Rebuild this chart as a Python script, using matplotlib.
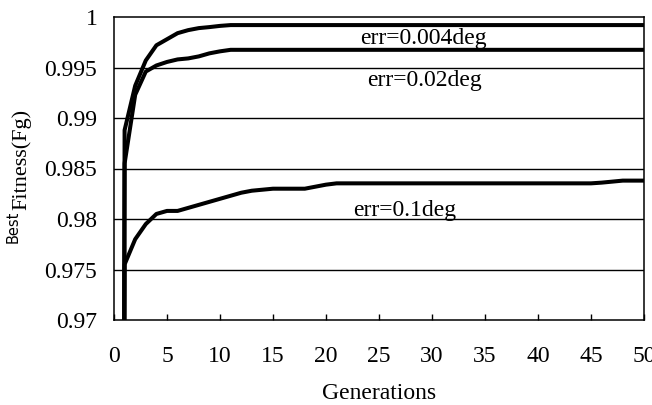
import matplotlib
matplotlib.use("Agg")
import matplotlib.pyplot as plt
import numpy as np

# best fitness per generation (generation 0 = initial population, far below the axis)
generations = np.arange(0, 51)

err_004 = [0.5, 0.9888, 0.9932, 0.9957, 0.9972, 0.9978, 0.9984, 0.9987, 0.9989,
           0.9990, 0.99912] + [0.9992] * 40
err_02 = [0.5, 0.9855, 0.9923, 0.9946, 0.9952, 0.99555, 0.9958, 0.9959, 0.9961,
          0.9964, 0.9966] + [0.99675] * 40
err_1 = [0.5, 0.9755, 0.9780, 0.9795, 0.9805, 0.9808, 0.9808, 0.9811, 0.9814,
         0.9817, 0.9820, 0.9823, 0.9826, 0.9828, 0.9829, 0.9830, 0.9830, 0.9830,
         0.9830, 0.9832, 0.9834] + [0.98353] * 25 + [0.9836, 0.9837, 0.9838, 0.9838, 0.9838]

labels = ["err=0.004deg", "err=0.02deg", "err=0.1deg"]
label_pos = [(29.2, 0.99733), (29.3, 0.99317), (27.4, 0.9803)]

yticks = [0.97, 0.975, 0.98, 0.985, 0.99, 0.995, 1.0]
ytick_labels = ["0.97", "0.975", "0.98", "0.985", "0.99", "0.995", "1"]
xticks = np.arange(0, 51, 5)

serif = "Liberation Serif"
fs = 17

fig = plt.figure(figsize=(6.52, 4.05), dpi=100)
ax = fig.add_axes([114 / 652, 85 / 405, 530 / 652, 303 / 405])

for y in yticks[1:-1]:
    ax.axhline(y, color="black", lw=1.0, zorder=1)

for series in (err_004, err_02, err_1):
    ax.plot(generations, series, color="black", lw=2.9, solid_joinstyle="round", zorder=2)

for text, (x, y) in zip(labels, label_pos):
    ax.text(x, y, text, ha="center", va="baseline", fontsize=fs, family=serif, zorder=3)

ax.set_xlim(0, 50)
ax.set_ylim(0.97, 1.0)
ax.set_xticks(xticks)
ax.set_xticklabels([str(t) for t in xticks], family=serif, fontsize=fs)
ax.set_yticks(yticks)
ax.set_yticklabels(ytick_labels, family=serif, fontsize=fs)
ax.tick_params(axis="x", direction="in", length=4.3, width=1.0, pad=19)
ax.tick_params(axis="y", length=0, pad=12)

for s in ax.spines.values():
    s.set_linewidth(1.1)

ax.set_xlabel("Generations", family=serif, fontsize=fs, labelpad=11)

# y label: "Best" in sans, "Fitness(Fg)" in serif, stacked along the axis
best = fig.text(21 / 652, (405 - 243) / 405, "Best", rotation=90, ha="right", va="bottom",
                family="DejaVu Sans", fontsize=10.5)
ax.annotate("Fitness(Fg)", xy=(1.0, 1.0), xycoords=best, xytext=(10 / 0.72 * 0.72, 1),
            textcoords="offset pixels", rotation=90, ha="right", va="bottom",
            family=serif, fontsize=16, annotation_clip=False)

fig.savefig("out.png", dpi=100)
